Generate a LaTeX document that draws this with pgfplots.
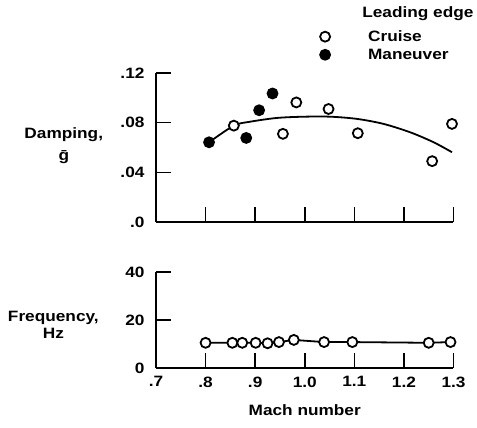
\documentclass[border=0pt]{standalone}
\usepackage{fontspec}
\setmainfont{Liberation Sans}[UprightFont=* Bold, FakeStretch=1.15]
\usepackage{pgfplots}
\pgfplotsset{compat=1.18}

\pgfplotsset{
  scanstyle/.style={
    scale only axis, width=297.5pt,
    xmin=0.7, xmax=1.3,
    axis lines=left,
    axis line style={-, line width=1.8pt},
    clip=false,
    tick align=inside,
    tick style={line width=1.6pt, black},
    major tick length=15pt,
    font=\fontsize{15}{17}\selectfont,
    /pgf/number format/assume math mode=true,
    yticklabel style={xshift=-8pt},
    xticklabel style={yshift=-5pt},
    label style={align=center, font=\fontsize{15}{17}\selectfont},
  },
  opencirc/.style={mark=*, mark size=5pt, line width=1.8pt, mark options={fill=white, draw=black, line width=1.8pt}},
  fullcirc/.style={mark=*, mark size=5pt, mark options={fill=black, draw=black, line width=1.8pt}},
}

\begin{document}
\begin{tikzpicture}[x=1pt,y=1pt]
\useasboundingbox (0,0) rectangle (477,428);

% damping vs Mach number
\begin{axis}[scanstyle,
  at={(156pt,206pt)}, anchor=south west,
  height=149pt,
  ymin=0, ymax=0.12,
  xtick={0.8,0.9,1.0,1.1,1.2,1.3}, xticklabels={},
  ytick={0,0.04,0.08,0.12}, yticklabels={.0,.04,.08,.12},
  ylabel={Damping,\\[5pt]\={g}},
  ylabel style={rotate=-90, anchor=center, at={(axis description cs:-0.31,0.51)}},
  legend style={at={(axis description cs:0.551,1.30)}, anchor=north west,
    draw=none, fill=none, inner sep=0pt, row sep=2pt,
    font=\fontsize{15}{17}\selectfont,
    /tikz/every odd column/.append style={column sep=36pt}},
  legend cell align=left,
  legend image code/.code={\draw[#1] plot coordinates {(0pt,0pt)};},
]
\addplot[line width=1.8pt, smooth, no marks, forget plot] coordinates {
  (0.807,0.0642) (0.857,0.0776) (0.8905,0.0808) (0.944,0.0838) (0.998,0.0848)
  (1.052,0.0848) (1.106,0.0830) (1.159,0.0790) (1.213,0.0722) (1.260,0.0642)
  (1.297,0.0562)
};
\addplot[only marks, opencirc] coordinates {
  (0.857,0.0776) (0.956,0.0710) (0.983,0.0963) (1.048,0.0910)
  (1.107,0.0715) (1.257,0.0490) (1.297,0.0790)
};
\addlegendentry{Cruise}
\addplot[only marks, fullcirc] coordinates {
  (0.807,0.0642) (0.882,0.0677) (0.908,0.0900) (0.935,0.1035)
};
\addlegendentry{Maneuver}
\end{axis}

% frequency vs Mach number
\begin{axis}[scanstyle,
  at={(156pt,60pt)}, anchor=south west,
  height=96pt,
  ymin=0, ymax=40,
  xtick={0.7,0.8,0.9,1.0,1.1,1.2,1.3},
  xticklabels={.7,.8,.9,1.0,1.1,1.2,1.3},
  ytick={0,20,40}, yticklabels={0,20,40},
  ylabel={Frequency,\\Hz},
  ylabel style={rotate=-90, anchor=center, at={(axis description cs:-0.345,0.45)}},
  xlabel={Mach number},
  xlabel style={anchor=center, at={(axis description cs:0.5,-0.44)}},
]
\addplot[line width=1.6pt, opencirc] coordinates {
  (0.800,10.5) (0.854,10.5) (0.874,10.5) (0.901,10.5) (0.925,10.3) (0.948,10.8)
  (0.978,11.7) (1.039,10.8) (1.096,10.8) (1.250,10.5) (1.294,10.8)
};
\end{axis}

\node[anchor=east, font=\fontsize{15}{17}\selectfont] at (477,414) {Leading edge};
\end{tikzpicture}
\end{document}
